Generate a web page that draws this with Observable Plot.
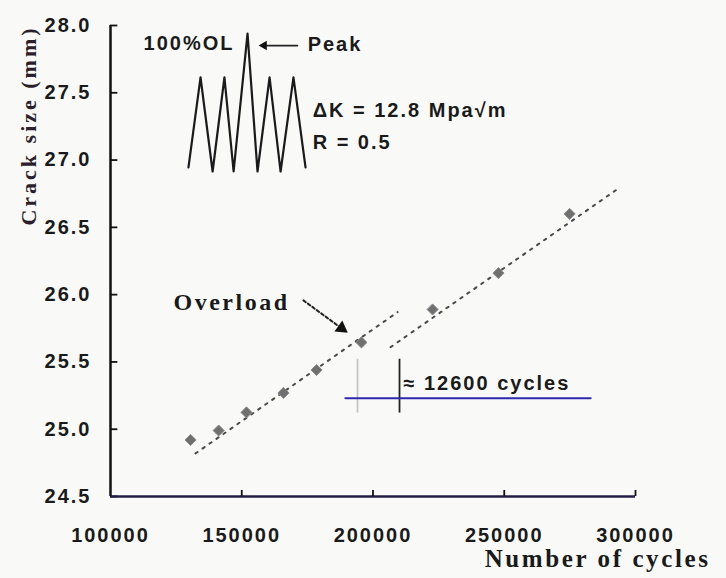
<!DOCTYPE html>
<html><head><meta charset="utf-8">
<script src="https://cdn.jsdelivr.net/npm/d3@7"></script>
<script src="https://cdn.jsdelivr.net/npm/@observablehq/plot@0.6"></script>
<style>
html,body{margin:0;padding:0;background:#f9faf8;}
#chart svg{display:block;}
g[aria-label="y-axis tick label"] text, g[aria-label="x-axis tick label"] text, g[aria-description="sans-note"] text {letter-spacing:2px;}
g[aria-description="serif-note"] text {letter-spacing:2.5px;}
g[aria-description="x-title"] text {letter-spacing:2.6px;}
g[aria-description="y-title"] text {letter-spacing:3px;}
</style></head><body><div id="chart"></div>
<script>
// measured data points
const cycles = [130500, 141200, 151800, 165900, 178500, 195600, 222700, 247800, 274900];
const crackSize = [24.92, 24.99, 25.125, 25.27, 25.44, 25.645, 25.89, 26.16, 26.60];
// dotted trend lines (before and after the overload)
const fitBeforeCycles = [132400, 209350];
const fitBeforeSize = [24.82, 25.87];
const fitAfterCycles = [206700, 293550];
const fitAfterSize = [25.61, 26.79];
// ticks
const xTicks = [100000, 150000, 200000, 250000, 300000];
const yTicks = [24.5, 25.0, 25.5, 26.0, 26.5, 27.0, 27.5, 28.0];
// inset loading waveform (drawn in chart units)
const waveCycles = [129700, 134300, 138900, 143400, 146900, 152200, 156000, 160600, 164800, 169700, 174300];
const waveSize = [26.945, 27.614, 26.915, 27.614, 26.915, 27.94, 26.915, 27.614, 26.915, 27.614, 26.945];
// delay annotation
const delayCycles = [194100, 210100];
const delayColors = ["#c4c4c4", "#222222"];
const delaySpan = [25.12, 25.52];
const delayBaseCycles = [189500, 282900];
const delayBaseSize = [25.23, 25.23];
// annotation texts
const sansNotes = ["100%OL", "Peak", "ΔK = 12.8 Mpa√m", "R = 0.5", "≈ 12600 cycles"];
const sansNoteCycles = [112600, 175100, 177000, 177000, 211600];
const sansNoteSize = [27.866, 27.855, 27.37, 27.13, 25.34];
const overloadNote = ["Overload"];
const overloadCycles = [124000];
const overloadSize = [25.94];
// arrows
const peakArrowCycles = [171200, 158500];
const peakArrowSize = [27.851, 27.851];
const overloadArrowCycles = [173500, 188000];
const overloadArrowSize = [25.957, 25.75];

const pts = cycles.map((c, i) => ({c, s: crackSize[i]}));
const fitB = fitBeforeCycles.map((c, i) => ({c, s: fitBeforeSize[i]}));
const fitA = fitAfterCycles.map((c, i) => ({c, s: fitAfterSize[i]}));
const wave = waveCycles.map((c, i) => ({c, s: waveSize[i]}));
const notes = sansNotes.map((t, i) => ({t, c: sansNoteCycles[i], s: sansNoteSize[i]}));
const delays = delayCycles.map((c, i) => ({c, col: delayColors[i]}));

const sans = "'Liberation Sans', Arial, sans-serif";
const serif = "'Liberation Serif', 'Times New Roman', serif";
const ink = "#1a1a1a";

const chart = Plot.plot({
  width: 726, height: 578,
  marginLeft: 110, marginRight: 91, marginTop: 25, marginBottom: 82,
  style: {background: "#f9faf8", overflow: "visible"},
  x: {domain: [100000, 300000]},
  y: {domain: [24.5, 28]},
  marks: [
    // axes lines and inward ticks
    Plot.ruleX([100000], {y1: 24.5, y2: 28, stroke: "#111", strokeWidth: 2.5}),
    Plot.ruleY(yTicks, {x1: 100000, x2: 102800, stroke: "#111", strokeWidth: 1.8}),
    Plot.ruleY([24.5], {x1: 100000, x2: 300000, stroke: "#221d48", strokeWidth: 2.5}),
    Plot.ruleX(xTicks.slice(1), {y1: 24.5, y2: 24.545, stroke: "#111", strokeWidth: 1.8}),
    Plot.axisY({ticks: yTicks, tickSize: 0, tickPadding: 19, tickFormat: d3.format(".1f"),
      fontSize: 20, fontWeight: "bold", fontFamily: sans, fill: ink, label: null}),
    Plot.axisX({ticks: xTicks, tickSize: 0, tickPadding: 31, tickFormat: d3.format("d"),
      fontSize: 20, fontWeight: "bold", fontFamily: sans, fill: ink, label: null}),
    // axis titles
    Plot.text(["Number of cycles"], {text: d => d, frameAnchor: "bottom-right", dx: 75, dy: 70,
      textAnchor: "end", fontFamily: serif, fontWeight: "bold", fontSize: 25, fill: ink, ariaDescription: "x-title"}),
    Plot.text(["Crack size (mm)"], {text: d => d, frameAnchor: "top-left", dx: -90, dy: 100, rotate: -90,
      textAnchor: "middle", fontFamily: serif, fontWeight: "bold", fontSize: 22, fill: "#2a1f2a", ariaDescription: "y-title"}),
    // trend lines
    Plot.line(fitB, {x: "c", y: "s", stroke: "#4a4a4a", strokeWidth: 2, strokeDasharray: "2.5,6"}),
    Plot.line(fitA, {x: "c", y: "s", stroke: "#4a4a4a", strokeWidth: 2, strokeDasharray: "2.5,6"}),
    // data points
    Plot.dot(pts, {x: "c", y: "s", symbol: "diamond2", r: 5, fill: "#707070", stroke: "#8a8a8a", strokeWidth: 1}),
    // waveform inset
    Plot.line(wave, {x: "c", y: "s", stroke: "#1a1a1a", strokeWidth: 2.2, curve: "linear"}),
    // annotations
    Plot.text(notes, {x: "c", y: "s", text: "t", textAnchor: "start", fontFamily: sans, fontWeight: "bold",
      fontSize: 20, fill: ink, ariaDescription: "sans-note"}),
    Plot.text(overloadNote, {text: d => d, x: () => overloadCycles[0], y: () => overloadSize[0], textAnchor: "start",
      fontFamily: serif, fontWeight: "bold", fontSize: 24, fill: ink, ariaDescription: "serif-note"}),
    // peak arrow
    Plot.line(peakArrowCycles.map((c, i) => ({c, s: peakArrowSize[i]})), {x: "c", y: "s", stroke: "#222", strokeWidth: 1.8}),
    Plot.dot([{c: peakArrowCycles[1], s: peakArrowSize[1]}], {x: "c", y: "s", symbol: "triangle", r: 3.5, rotate: -90, fill: "#111"}),
    // overload arrow
    Plot.line(overloadArrowCycles.map((c, i) => ({c, s: overloadArrowSize[i]})), {x: "c", y: "s", stroke: "#222",
      strokeWidth: 2, strokeDasharray: "3,2.5"}),
    Plot.dot([{c: overloadArrowCycles[1], s: overloadArrowSize[1]}], {x: "c", y: "s", symbol: "triangle", r: 5, rotate: 126, fill: "#111"}),
    // delay markers
    Plot.ruleX(delays, {x: "c", y1: delaySpan[0], y2: delaySpan[1], stroke: "col", strokeWidth: 1.8}),
    Plot.line(delayBaseCycles.map((c, i) => ({c, s: delayBaseSize[i]})), {x: "c", y: "s", stroke: "#2d2ab0", strokeWidth: 2.2})
  ]
});
document.getElementById("chart").appendChild(chart);
</script>
</body></html>
